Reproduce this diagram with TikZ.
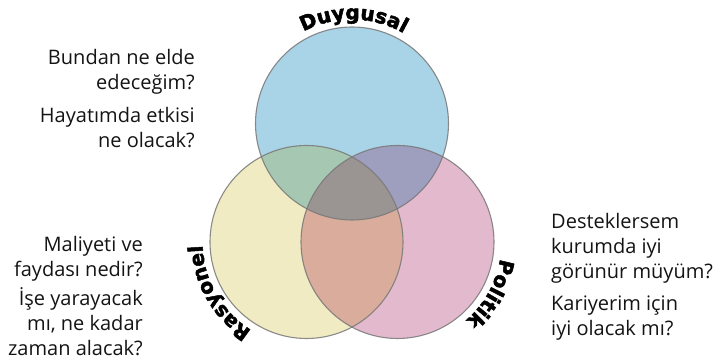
\documentclass[tikz,border=0pt]{standalone}
\usepackage{fontspec}
\setmainfont{Open Sans}
\newfontfamily\heavyfont[UprightFont=* Bold, UprightFeatures={FakeBold=2.5}]{DejaVu Sans}
\usetikzlibrary{decorations.text}
\definecolor{cblue}{RGB}{169,211,230}
\definecolor{cyellow}{RGB}{240,235,194}
\definecolor{cpink}{RGB}{227,185,205}
\definecolor{cby}{RGB}{166,199,178}
\definecolor{cbp}{RGB}{158,158,190}
\definecolor{cyp}{RGB}{217,172,156}
\definecolor{cbyp}{RGB}{154,149,147}
\definecolor{cline}{RGB}{120,120,120}
\definecolor{ctext}{RGB}{20,20,20}
\begin{document}
\begin{tikzpicture}[x=1pt,y=1pt,
  qtext/.style={font=\fontsize{20}{25}\selectfont, inner sep=0pt, text=ctext},
  outline/.style={draw=cline, line width=1.1pt, draw opacity=0.85},
  arclabel/.style={decorate, decoration={text along path, text align=center,
     text={|\heavyfont\fontsize{20}{20}\selectfont|#1}}}]
\useasboundingbox (0,0) rectangle (716,361);
\def\R{96.5}
\coordinate (cT) at (352,237.5);
\coordinate (cL) at (306.5,119);
\coordinate (cR) at (397.5,119);
% base circles
\fill[cblue] (cT) circle[radius=\R];
\fill[cyellow] (cL) circle[radius=\R];
\fill[cpink] (cR) circle[radius=\R];
% pairwise overlaps
\begin{scope}
  \clip (cT) circle[radius=\R];
  \fill[cby] (cL) circle[radius=\R];
  \fill[cbp] (cR) circle[radius=\R];
\end{scope}
\begin{scope}
  \clip (cL) circle[radius=\R];
  \fill[cyp] (cR) circle[radius=\R];
\end{scope}
\begin{scope}
  \clip (cT) circle[radius=\R];
  \clip (cL) circle[radius=\R];
  \fill[cbyp] (cR) circle[radius=\R];
\end{scope}
% outlines
\draw[outline] (cT) circle[radius=\R];
\draw[outline] (cL) circle[radius=\R];
\draw[outline] (cR) circle[radius=\R];
% curved labels
\path[arclabel=Duygusal] (cT) ++(149:104) arc[start angle=149, end angle=29, radius=104];
\path[arclabel=Rasyonel] (cL) ++(270:104) arc[start angle=270, end angle=150, radius=104];
\path[arclabel=Politik] (cR) ++(31:104) arc[start angle=31, end angle=-89, radius=104];
% questions (anchor = baseline of last line)
\node[qtext, align=right, anchor=base east] (q1) at (195,271) {Bundan ne elde\\edeceğim?};
\node[qtext, align=right, anchor=base east] (q2) at (195,213) {Hayatımda etkisi\\ne olacak?};
\node[qtext, align=right, anchor=base east] (q3) at (143,84) {Maliyeti ve\\faydası nedir?};
\node[qtext, align=right, anchor=base east] (q4) at (143,5) {İşe yarayacak\\mı, ne kadar\\zaman alacak?};
\node[qtext, align=left, anchor=base west] (q5) at (551,82) {Desteklersem\\kurumda iyi\\görünür müyüm?};
\node[qtext, align=left, anchor=base west] (q6) at (551,25) {Kariyerim için\\iyi olacak mı?};
\end{tikzpicture}
\end{document}
